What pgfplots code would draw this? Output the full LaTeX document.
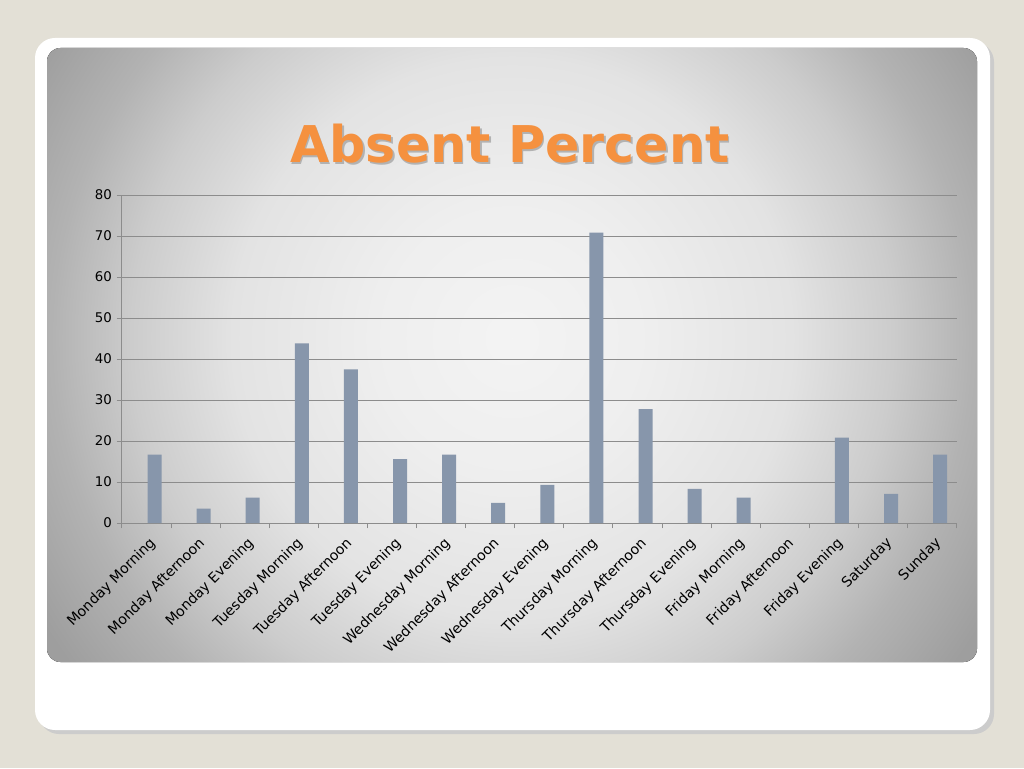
\documentclass[border=0pt]{standalone}
\usepackage{pgfplots}
\pgfplotsset{compat=1.18}
\usepackage{fontspec}
\setmainfont{DejaVu Sans}
\definecolor{pagebg}{HTML}{E3E0D6}
\definecolor{barcol}{HTML}{8796AB}
\definecolor{gridcol}{HTML}{8C8C8C}
\definecolor{titlecol}{HTML}{F5913F}
\pgfdeclareradialshading{panelshade}{\pgfpoint{0bp}{0bp}}{%
  gray(0bp)=(0.955); gray(6bp)=(0.935); gray(12.5bp)=(0.89); gray(17bp)=(0.80);
  gray(20.5bp)=(0.70); gray(24.5bp)=(0.62); gray(50bp)=(0.62)}

\begin{document}
\begin{tikzpicture}[x=0.75pt,y=0.75pt]
% page and card (pixel coordinates, y up)
\fill[pagebg] (0,0) rectangle (1024,768);
\useasboundingbox (0,0) rectangle (1024,768);
\fill[black!20,rounded corners=15] (39,34) rectangle (994,726);
\fill[white,rounded corners=15] (35,38) rectangle (990,730);
\begin{scope}
  \clip[rounded corners=10] (47,106) rectangle (977,720);
  \fill[shading=panelshade] (512-560,430-560) rectangle (512+560,430+560);
\end{scope}
% title
\node[text=black!30,font=\bfseries\fontsize{38}{38}\selectfont] at (511.5,622.5) {Absent Percent};
\node[text=titlecol,font=\bfseries\fontsize{38}{38}\selectfont] at (510,624) {Absent Percent};
\coordinate (ao) at (122,245);

\begin{axis}[
  at={(ao)}, anchor=south west,
  scale only axis, width=626pt, height=246pt,
  xmin=-0.5, xmax=16.5, ymin=0, ymax=80,
  axis x line*=bottom, axis y line*=left,
  axis line style={gridcol, line width=0.75pt},
  ytick={0,10,...,80},
  ymajorgrids, grid style={gridcol, line width=0.75pt},
  xtick={0,...,16},
  xticklabels={Monday Morning,Monday Afternoon,Monday Evening,Tuesday Morning,Tuesday Afternoon,Tuesday Evening,Wednesday Morning,Wednesday Afternoon,Wednesday Evening,Thursday Morning,Thursday Afternoon,Thursday Evening,Friday Morning,Friday Afternoon,Friday Evening,Saturday,Sunday},
  minor xtick={-0.5,0.5,...,16.5},
  major x tick style={draw=none},
  minor x tick style={gridcol, line width=0.75pt},
  y tick style={gridcol, line width=0.75pt},
  tick align=outside, major tick length=4pt, minor tick length=4pt,
  x tick label style={rotate=45, anchor=north east, font=\fontsize{10.6}{12}\selectfont, inner sep=1pt, xshift=-2pt, yshift=-4pt},
  y tick label style={font=\fontsize{10}{12}\selectfont},
  /pgf/number format/assume math mode=true,
  ticklabel style={text=black},
]
\addplot[ybar, bar width=10.5pt, bar shift=6pt, fill=barcol, draw=none] coordinates {
  (0,16.7) (1,3.5) (2,6.2) (3,43.8) (4,37.5) (5,15.6) (6,16.7) (7,4.9)
  (8,9.3) (9,70.8) (10,27.8) (11,8.3) (12,6.2) (13,0) (14,20.8) (15,7.1) (16,16.7)
};
\end{axis}
\end{tikzpicture}
\end{document}
